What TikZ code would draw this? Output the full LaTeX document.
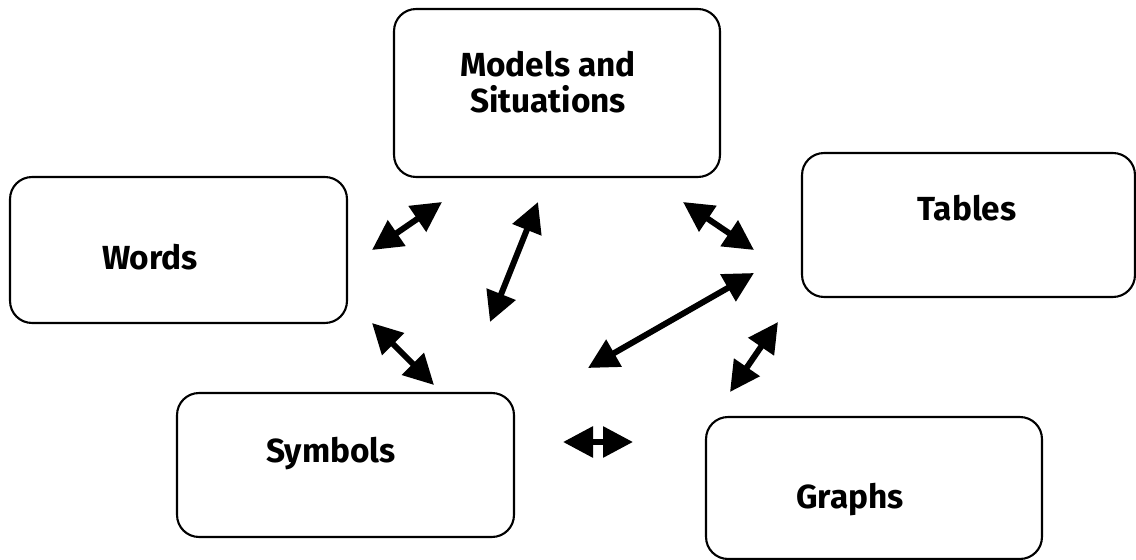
\documentclass[tikz,border=0pt]{standalone}
\usepackage{fontspec}
\setmainfont{Fira Sans}
\usepackage{tikz}
\usetikzlibrary{arrows.meta}

\begin{document}
\begin{tikzpicture}[x=0.02cm,y=-0.02cm,
    card/.style={draw,line width=1.2pt,rounded corners=0.44cm,inner sep=0pt},
    cardtext/.style={font=\fontsize{19}{20.5}\selectfont\bfseries,align=center},
    link/.style={{Triangle[length=0.6cm,width=0.6cm]}-{Triangle[length=0.6cm,width=0.6cm]},
                 line width=3.4pt}]
      \useasboundingbox (0,0) rectangle (1136,560);

      % Boxes
      \node[card,minimum width=6.52cm,minimum height=3.36cm] (models) at (557,93) {};
      \node[card,minimum width=6.66cm,minimum height=2.88cm] (tables) at (968.5,225) {};
      \node[card,minimum width=6.74cm,minimum height=2.92cm] (words) at (178.5,250) {};
      \node[card,minimum width=6.74cm,minimum height=2.88cm] (symbols) at (345.5,465) {};
      \node[card,minimum width=6.72cm,minimum height=2.84cm] (graphs) at (874,488) {};

      % Labels
      \node[cardtext] (modelslabel) at (548,82) {Models and\\Situations};
      \node[cardtext,anchor=base] (tableslabel) at (967,221) {Tables};
      \node[cardtext,anchor=base] (wordslabel) at (150,270) {Words};
      \node[cardtext,anchor=base] (symbolslabel) at (331,462) {Symbols};
      \node[cardtext,anchor=base] (graphslabel) at (850,508) {Graphs};

      % Arrow ends
      \coordinate (wm1) at (372,250);  \coordinate (wm2) at (442,202);
      \coordinate (ms1) at (538,202);  \coordinate (ms2) at (490,322);
      \coordinate (mt1) at (683,202);  \coordinate (mt2) at (754,250);
      \coordinate (ws1) at (372,323);  \coordinate (ws2) at (434,385);
      \coordinate (st1) at (588,368);  \coordinate (st2) at (754,273);
      \coordinate (tg1) at (778,322);  \coordinate (tg2) at (730,392);
      \coordinate (sg1) at (563,442);  \coordinate (sg2) at (633,442);

      % Arrows
      \draw[link] (wm1) -- (wm2);
      \draw[link] (ms1) -- (ms2);
      \draw[link] (mt1) -- (mt2);
      \draw[link] (ws1) -- (ws2);
      \draw[link] (st1) -- (st2);
      \draw[link] (tg1) -- (tg2);
      \draw[link] (sg1) -- (sg2);
\end{tikzpicture}
\end{document}
